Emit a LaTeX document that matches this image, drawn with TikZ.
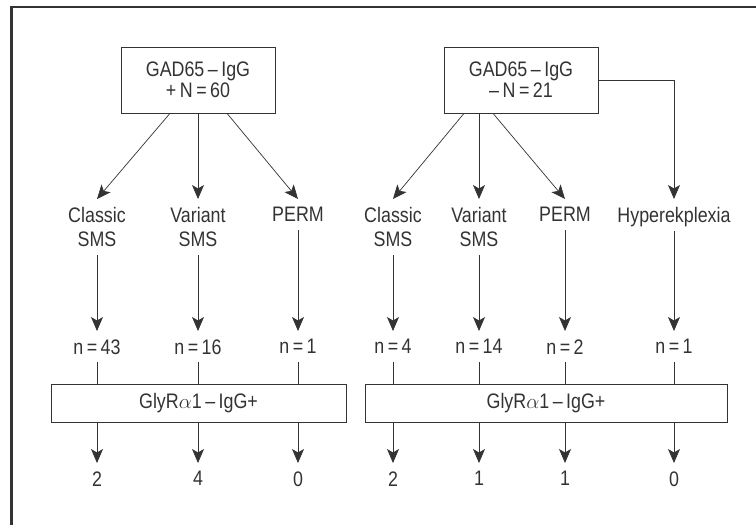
\documentclass[tikz,border=0pt]{standalone}
\usepackage{fontspec}
\setmainfont{Liberation Sans}[FakeStretch=0.85]
\usetikzlibrary{arrows.meta}
\definecolor{ink}{HTML}{333333}

\begin{document}
\begin{tikzpicture}[x=1pt, y=-1pt, ->, >={Stealth[length=14pt,width=12pt,inset=3.5pt]},
        color=ink, line width=0.7pt,
        every node/.append style={font=\fontsize{21}{24}\selectfont}]
      \tikzstyle{gadbox} = [draw, align=center, minimum width=154pt, minimum height=66pt,
                            inner sep=0pt, font=\fontsize{21}{21}\selectfont]
      \tikzstyle{glybox} = [draw, minimum height=38pt, inner sep=0pt]
      \tikzstyle{grp} = [anchor=north, align=center, inner xsep=2pt, inner ysep=8pt]
      \tikzstyle{cnt} = [anchor=north, inner xsep=2pt, inner ysep=8pt, text depth=0pt]
      \useasboundingbox (0,0) rectangle (756,525);
      \draw[-, line width=2.6pt] (756,7) -- (11.7,7) -- (11.7,525);
      % GAD65-IgG positive
      \node (gadpos) [gadbox] at (198,80) {GAD65\,–\,IgG\\+\,N\,=\,60};
      \node (clsA) [grp] at (97,199) {Classic\\SMS};
      \node (varA) [grp] at (198,199) {Variant\\SMS};
      \node (permA) [grp] at (298,199) {PERM};
      \node (nclsA) [cnt] at (97,331) {n\,=\,43};
      \node (nvarA) [cnt] at (198,331) {n\,=\,16};
      \node (npermA) [cnt] at (298,331) {n\,=\,1};
      \node (glyA) [glybox, minimum width=295pt] at (198.5,403) {GlyR$\alpha$1\,–\,IgG+};
      \node (oclsA) [cnt] at (97,463) {2};
      \node (ovarA) [cnt] at (198,463) {4};
      \node (opermA) [cnt] at (298,463) {0};
      % GAD65-IgG negative
      \node (gadneg) [gadbox] at (521,80) {GAD65\,–\,IgG\\–\,N\,=\,21};
      \node (clsB) [grp] at (393,199) {Classic\\SMS};
      \node (varB) [grp] at (479,199) {Variant\\SMS};
      \node (permB) [grp] at (565,199) {PERM};
      \node (hypB) [grp, text depth=0pt] at (674,199) {Hyperekplexia};
      \node (nclsB) [cnt] at (393,331) {n\,=\,4};
      \node (nvarB) [cnt] at (479,331) {n\,=\,14};
      \node (npermB) [cnt] at (565,331) {n\,=\,2};
      \node (nhypB) [cnt] at (674,331) {n\,=\,1};
      \node (glyB) [glybox, minimum width=362pt] at (546,403) {GlyR$\alpha$1\,–\,IgG+};
      \node (oclsB) [cnt] at (393,463) {2};
      \node (ovarB) [cnt] at (479,463) {1};
      \node (opermB) [cnt] at (565,463) {1};
      \node (ohypB) [cnt] at (674,463) {0};

      \draw ([xshift=-28pt]gadpos.south) -- (clsA.north);
      \draw (gadpos.south) -- (varA.north);
      \draw ([xshift=29pt]gadpos.south) -- (permA.north);
      \draw ([xshift=-57pt]gadneg.south) -- (clsB.north);
      \draw ([xshift=-42pt]gadneg.south) -- (varB.north);
      \draw ([xshift=-28pt]gadneg.south) -- (permB.north);
      \draw (gadneg.east) -| (hypB.north);
      \foreach \g/\grp/\n/\o in {A/clsA/nclsA/oclsA, A/varA/nvarA/ovarA, A/permA/npermA/opermA,
                                B/clsB/nclsB/oclsB, B/varB/nvarB/ovarB, B/permB/npermB/opermB,
                                B/hypB/nhypB/ohypB}
      {
        \draw (\grp.south) -- (\n.north);
        \draw[-] (\n.south) -- (\n.south |- gly\g.north);
        \draw (\n.south |- gly\g.south) -- (\o.north);
      }
    \end{tikzpicture}
\end{document}
